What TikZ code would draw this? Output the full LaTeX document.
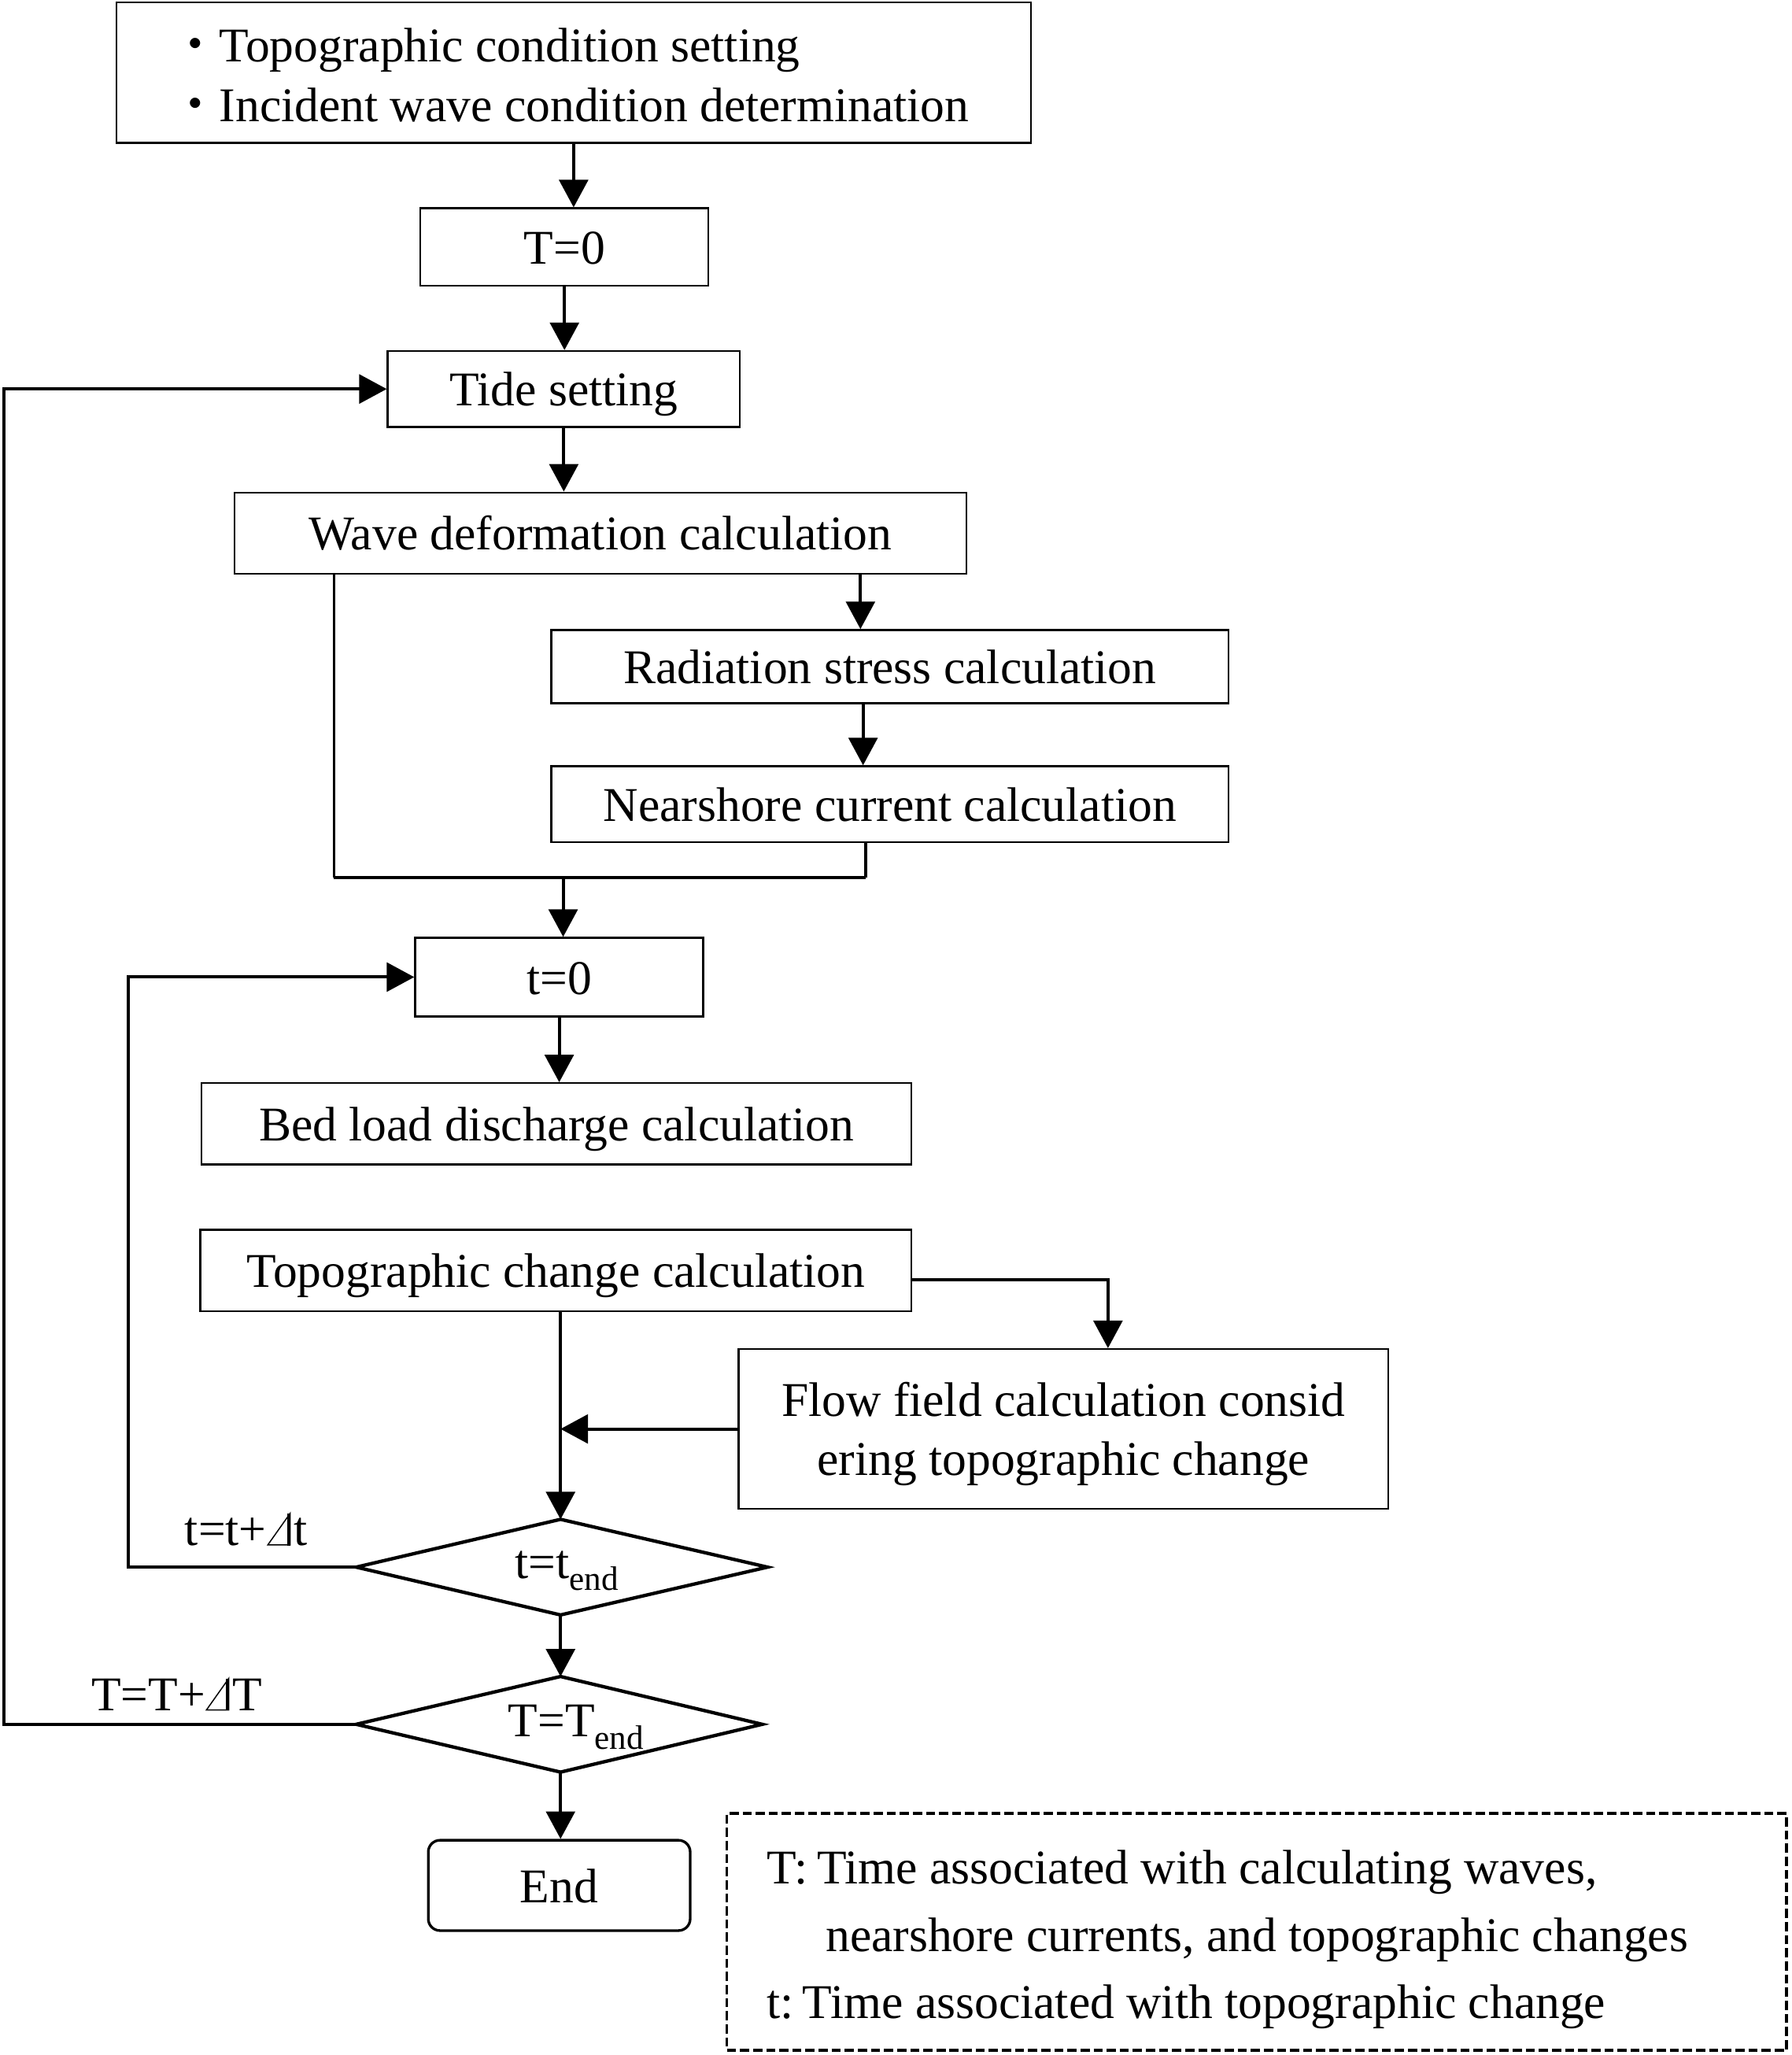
\documentclass[tikz,border=0pt]{standalone}
\usepackage{fontspec}
\setmainfont{Liberation Serif}
\newfontfamily\cjkfont{Noto Sans CJK JP}
\usetikzlibrary{arrows.meta}
\newcommand{\tri}{\tikz[baseline=0pt]{\path (0pt,0pt) rectangle (21pt,25pt);
  \draw[line width=0.9pt,line join=miter] (1pt,0.5pt) -- (18pt,0.5pt) -- (18pt,24.5pt) -- cycle;
  \draw[line width=2.4pt] (17pt,0pt) -- (17pt,24.5pt);}}
\begin{document}
\begin{tikzpicture}[x=1pt,y=-1pt,
  txt/.style={font=\fontsize{37}{45}\selectfont},
  box/.style={draw,line width=1.4pt,inner sep=0pt,txt,align=center,text height=28pt,text depth=2pt},
  arr/.style={line width=2.4pt,-{Triangle[length=21pt,width=22pt]}},
  ln/.style={line width=2.2pt},
  loopline/.style={line width=2.4pt,-{Triangle[length=21pt,width=22pt]}},
  dia/.style={line width=2.6pt,line join=miter}]
\useasboundingbox (0,0) rectangle (1368,1569);

% top box
\node[draw,line width=1.4pt,inner sep=0pt,minimum width=698pt,minimum height=107pt] (top) at (438,55.5) {};
\node[txt,anchor=base west] (ta) at (127,47) {{\cjkfont ・}Topographic condition setting};
\node[txt,anchor=base west] (tb) at (127,93) {{\cjkfont ・}Incident wave condition determination};

\node[box,minimum width=220pt,minimum height=59pt] (T0) at (431,188.5) {T=0};
\node[box,minimum width=269pt,minimum height=58pt] (Tide) at (430.5,297) {Tide setting};
\node[box,minimum width=559pt,minimum height=62pt] (Wave) at (458.5,407) {Wave deformation calculation};
\node[box,minimum width=517pt,minimum height=56pt] (Rad) at (679.5,509) {Radiation stress calculation};
\node[box,minimum width=517pt,minimum height=58pt] (Near) at (679.5,614) {Nearshore current calculation};
\node[box,minimum width=220pt,minimum height=60pt] (t0) at (427,746) {t=0};
\node[box,minimum width=542pt,minimum height=62pt] (Bed) at (425,858) {Bed load discharge calculation};
\node[box,minimum width=543pt,minimum height=62pt] (Topo) at (424.5,970) {Topographic change calculation};
\node[box,text height=73pt,text depth=2pt,minimum width=496pt,minimum height=122pt] (Flow) at (812,1091) {Flow field calculation consid\\ering topographic change};
\node[box,line width=2pt,rounded corners=9pt,minimum width=200pt,minimum height=69pt] (End) at (427,1439.5) {End};

% diamonds
\coordinate (d1n) at (428,1160);
\coordinate (d1e) at (586,1196.5);
\coordinate (d1s) at (428,1233);
\coordinate (d1w) at (272,1196.5);
\draw[dia] (d1n) -- (d1e) -- (d1s) -- (d1w) -- cycle;
\node[txt,anchor=base] (d1t) at (433,1205) {t=t\textsubscript{end}};

\coordinate (d2n) at (428,1280);
\coordinate (d2e) at (582,1316.5);
\coordinate (d2s) at (428,1353);
\coordinate (d2w) at (272,1316.5);
\draw[dia] (d2n) -- (d2e) -- (d2s) -- (d2w) -- cycle;
\node[txt,anchor=base] (d2t) at (440,1326) {T=T\textsubscript{end}};

% connectors
\draw[arr] (top.south) -- (top.south |- T0.north);
\draw[arr] (T0.south) -- (T0.south |- Tide.north);
\draw[arr] (Tide.south) -- (Tide.south |- Wave.north);
\coordinate (xr) at (657,0);
\coordinate (xr2) at (659,0);
\draw[arr] (Wave.south -| xr) -- (Rad.north -| xr);
\draw[arr] (Rad.south -| xr2) -- (Near.north -| xr2);
\coordinate (jl) at (255,670);
\coordinate (jr) at (661,670);
\coordinate (jm) at (430,670);
\draw[ln] (Wave.south -| jl) -- (jl);
\draw[ln] (Near.south -| jr) -- (jr);
\draw[line width=2.8pt] (jl) -- (jr);
\draw[arr] (jm) -- (jm |- t0.north);
\draw[arr] (t0.south) -- (t0.south |- Bed.north);
\draw[arr] (Topo.south -| d1n) -- (d1n);
\coordinate (tf) at (846,977);
\draw[arr] (Topo.east |- tf) -- (tf) -- (tf |- Flow.north);
\draw[arr] (Flow.west) -- (Flow.west -| d1n);
\draw[arr] (d1s) -- (d2n);
\draw[arr] (d2s) -- (d2s |- End.north);

\coordinate (lc1) at (98,0);
\coordinate (lc2) at (3,0);
\draw[loopline] (d1w) -- (d1w -| lc1) -- (t0.west -| lc1) -- (t0.west);
\draw[loopline] (d2w) -- (d2w -| lc2) -- (Tide.west -| lc2) -- (Tide.west);
\node[txt,anchor=base] (lab1) at (188,1180) {t=t+\tri t};
\node[txt,anchor=base] (lab2) at (135,1306) {T=T+\tri T};

% legend
\node[draw,line width=2.2pt,dash pattern=on 7pt off 3pt,inner sep=0pt,minimum width=809pt,minimum height=181pt] (leg) at (959.5,1475) {};
\node[txt,anchor=base west] (g1) at (582,1438) {T:\kern-2pt\ Time associated with calculating waves,};
\node[txt,anchor=base west] (g2) at (627,1490) {nearshore currents, and topographic changes};
\node[txt,anchor=base west] (g3) at (582,1541) {t:\kern-2.5pt\ Time associated with topographic change};
\end{tikzpicture}
\end{document}
